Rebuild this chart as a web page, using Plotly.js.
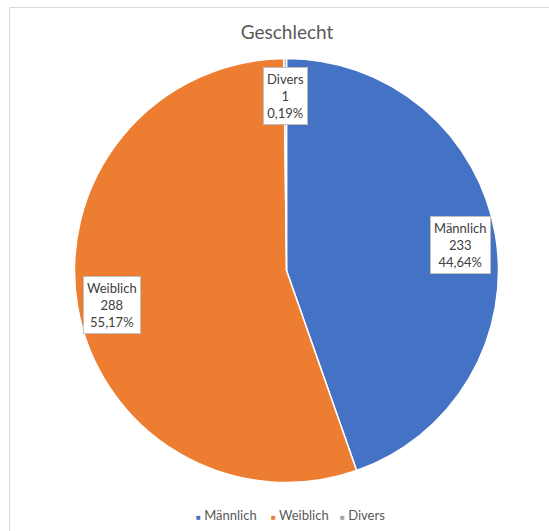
<!DOCTYPE html>
<html>
<head>
<meta charset="utf-8">
<script src="https://cdn.plot.ly/plotly-3.0.1.min.js"></script>
<style>html,body{margin:0;padding:0;background:#fff;}#chart{width:549px;height:531px;}</style>
</head>
<body>
<div id="chart"></div>
<script>
const categories = ["Männlich", "Weiblich", "Divers"];
const counts = [233, 288, 1];
const sliceColors = ["#4472C4", "#ED7D31", "#A5A5A5"];
const chartTitle = "Geschlecht";

const W = 549, H = 531;
const total = counts.reduce((a, b) => a + b, 0);
const pct = counts.map(v => (v / total * 100).toFixed(2).replace('.', ',') + '%');

// label box centres (pixels)
const labelPos = [[460, 245], [112, 305], [285, 96]];
// legend item left edges (pixels)
const legendX = [194, 269, 338];
const legendY = 515;

const fontFam = 'Lato, "Open Sans", sans-serif';

const annotations = categories.map((c, i) => ({
  text: c + '<br>' + counts[i] + '<br>' + pct[i],
  xref: 'paper', yref: 'paper',
  x: labelPos[i][0] / W, y: 1 - labelPos[i][1] / H,
  xanchor: 'center', yanchor: 'middle',
  showarrow: false,
  bgcolor: '#FFFFFF', bordercolor: '#BFBFBF', borderwidth: 1, borderpad: 3,
  font: {family: fontFam, size: 13, color: '#404040'}
}));

categories.forEach((c, i) => {
  annotations.push({
    text: '<span style="color:' + sliceColors[i] + ';font-size:8px">■</span> ' + c,
    xref: 'paper', yref: 'paper',
    x: legendX[i] / W, y: 1 - legendY / H,
    xanchor: 'left', yanchor: 'middle', showarrow: false,
    font: {family: fontFam, size: 13, color: '#595959'}
  });
});

const cx = 286.5, cy = 270.5, r = 212;
const data = [{
  type: 'pie',
  labels: categories,
  values: counts,
  sort: false,
  direction: 'clockwise',
  rotation: 0,
  textinfo: 'none',
  hoverinfo: 'label+value+percent',
  marker: {colors: sliceColors, line: {color: '#FFFFFF', width: 1.5}},
  domain: {x: [(cx - r) / W, (cx + r) / W], y: [1 - (cy + r) / H, 1 - (cy - r) / H]}
}];

const layout = {
  width: W, height: H,
  margin: {l: 0, r: 0, t: 0, b: 0},
  paper_bgcolor: '#FFFFFF',
  title: {text: chartTitle, x: 287 / W, xanchor: 'center', y: 1 - 32 / H, yanchor: 'middle',
          font: {family: fontFam, size: 19, color: '#595959'}},
  showlegend: false,
  annotations: annotations,
  shapes: [{type: 'rect', xref: 'paper', yref: 'paper', x0: 9.5 / W, x1: 1.2, y0: -0.2, y1: 1 - 7.5 / H,
            line: {color: '#D9D9D9', width: 1}, fillcolor: 'rgba(0,0,0,0)', layer: 'below'}]
};

Plotly.newPlot('chart', data, layout, {displayModeBar: false, staticPlot: true});
</script>
</body>
</html>
